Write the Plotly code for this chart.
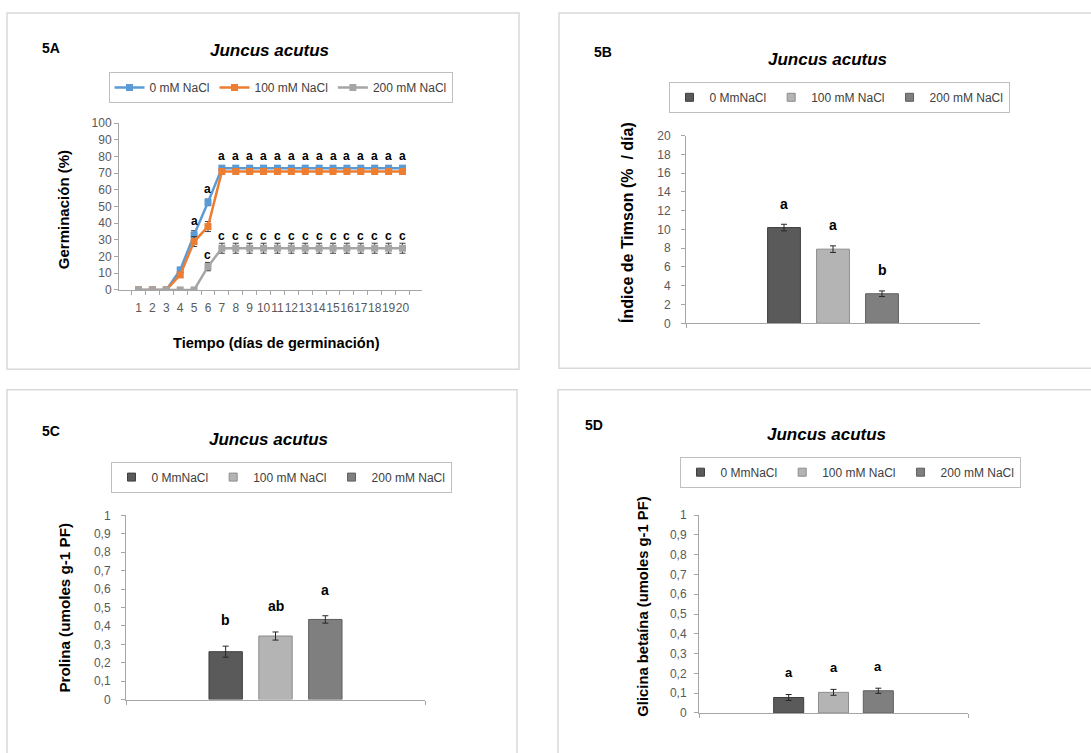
import plotly.graph_objects as go

W, H = 1091, 753


def px(x):
    return x / W


def py(y):
    return 1 - y / H


FONT = "Liberation Sans, Arial, sans-serif"

# ---------------- Data ----------------
days = ["1", "2", "3", "4", "5", "6", "7", "8", "9", "10",
        "11", "12", "13", "14", "15", "16", "17", "18", "19", "20"]
line_names = ["0 mM NaCl", "100 mM NaCl", "200 mM NaCl"]
germ_0mM = [0, 0, 0, 12, 33, 52.5, 73, 73, 73, 73, 73, 73, 73, 73, 73, 73, 73, 73, 73, 73]
germ_100mM = [0, 0, 0, 9, 29, 38, 71, 71, 71, 71, 71, 71, 71, 71, 71, 71, 71, 71, 71, 71]
germ_200mM = [0, 0, 0, 0, 0, 14, 25, 25, 25, 25, 25, 25, 25, 25, 25, 25, 25, 25, 25, 25]
err_0mM = [0, 0, 0, 1.5, 2.5, 2, 1.5, 1.5, 1.5, 1.5, 1.5, 1.5, 1.5, 1.5, 1.5, 1.5, 1.5, 1.5, 1.5, 1.5]
err_100mM = [0, 0, 0, 1.5, 3, 3, 1.5, 1.5, 1.5, 1.5, 1.5, 1.5, 1.5, 1.5, 1.5, 1.5, 1.5, 1.5, 1.5, 1.5]
err_200mM = [0, 0, 0, 0, 0, 2.5, 3, 3, 3, 3, 3, 3, 3, 3, 3, 3, 3, 3, 3, 3]
letters_top = ["", "", "", "", "a", "a", "a", "a", "a", "a", "a", "a", "a", "a", "a", "a", "a", "a", "a", "a"]
letters_low = ["", "", "", "", "", "c", "c", "c", "c", "c", "c", "c", "c", "c", "c", "c", "c", "c", "c", "c"]

treatments = ["0 MmNaCl", "100 mM NaCl", "200 mM NaCl"]
timson = [10.2, 7.9, 3.15]
timson_err = [0.35, 0.35, 0.3]
timson_letters = ["a", "a", "b"]
prolina = [0.26, 0.345, 0.435]
prolina_err = [0.03, 0.022, 0.02]
prolina_letters = ["b", "ab", "a"]
glicina = [0.078, 0.104, 0.112]
glicina_err = [0.015, 0.015, 0.013]
glicina_letters = ["a", "a", "a"]

y_ticks_A = [0, 10, 20, 30, 40, 50, 60, 70, 80, 90, 100]
y_ticks_B = [0, 2, 4, 6, 8, 10, 12, 14, 16, 18, 20]
y_ticks_CD = [0, 0.1, 0.2, 0.3, 0.4, 0.5, 0.6, 0.7, 0.8, 0.9, 1]

# ---------------- Styles ----------------
line_colors = ["#5B9BD5", "#ED7D31", "#A5A5A5"]
bar_colors = ["#5A5A5A", "#B4B4B4", "#7F7F7F"]
bar_edges = ["#3F3F3F", "#8C8C8C", "#5E5E5E"]
AXIS_COL = "#A6A6A6"
TICK_FONT = dict(family=FONT, size=12, color="#595959")
BARGAP = 0.5

fig = go.Figure()

# ---- Panel A: lines ----
for name, vals, errs, col in zip(line_names, [germ_0mM, germ_100mM, germ_200mM],
                                 [err_0mM, err_100mM, err_200mM], line_colors):
    fig.add_trace(go.Scatter(
        x=days, y=vals, name=name, mode="lines+markers",
        line=dict(color=col, width=2.5),
        marker=dict(symbol="square", size=7, color=col),
        error_y=dict(type="data", array=errs, color="#404040", thickness=1, width=3),
        xaxis="x", yaxis="y", legend="legend",
    ))

annotations = []
for i, (v, e, t) in enumerate(zip(germ_0mM, err_0mM, letters_top)):
    if t:
        annotations.append(dict(x=i, y=v + e + 6, xref="x", yref="y", text="<b>%s</b>" % t,
                                showarrow=False, font=dict(family=FONT, size=12, color="#000")))
for i, (v, e, t) in enumerate(zip(germ_200mM, err_200mM, letters_low)):
    if t:
        annotations.append(dict(x=i, y=v + e + 4.5, xref="x", yref="y", text="<b>%s</b>" % t,
                                showarrow=False, font=dict(family=FONT, size=12, color="#000")))

# ---- Bar panels ----
bar_panels = [
    ("x2", "y2", "legend2", timson, timson_err, timson_letters, 2.2, 14),
    ("x3", "y3", "legend3", prolina, prolina_err, prolina_letters, 0.14, 14),
    ("x4", "y4", "legend4", glicina, glicina_err, glicina_letters, 0.11, 13),
]
slot = (1 - BARGAP) / len(treatments)
for xa, ya, lg, vals, errs, lets, off, fs in bar_panels:
    for i, (name, v, e, col, ec) in enumerate(zip(treatments, vals, errs, bar_colors, bar_edges)):
        fig.add_trace(go.Bar(
            x=["Juncus acutus"], y=[v], name=name, showlegend=False,
            marker=dict(color=col, line=dict(color=ec, width=1)),
            error_y=dict(type="data", array=[e], color="#262626", thickness=1, width=3),
            xaxis=xa, yaxis=ya,
        ))
        # legend swatch (small square, like the original)
        fig.add_trace(go.Scatter(
            x=[None], y=[None], name=name, mode="markers",
            marker=dict(symbol="square", size=8, color=col, line=dict(color=ec, width=1)),
            xaxis=xa, yaxis=ya, legend=lg, hoverinfo="skip",
        ))
        xpos = (i - (len(treatments) - 1) / 2) * slot
        annotations.append(dict(x=xpos, y=v + e + off, xref=xa, yref=ya, text="<b>%s</b>" % lets[i],
                                showarrow=False, font=dict(family=FONT, size=fs, color="#000")))


# ---- Text: panel labels, titles, axis titles ----
def add_text(x, y, text, size, angle=0, xanchor="center"):
    annotations.append(dict(x=px(x), y=py(y), xref="paper", yref="paper", text=text,
                            showarrow=False, textangle=angle, xanchor=xanchor, yanchor="middle",
                            font=dict(family=FONT, size=size, color="#000")))


add_text(40, 42, "<b>5A</b>", 14, xanchor="left")
add_text(592, 46, "<b>5B</b>", 14, xanchor="left")
add_text(40, 432, "<b>5C</b>", 14, xanchor="left")
add_text(583, 426, "<b>5D</b>", 14, xanchor="left")

add_text(269, 44, "<b><i>Juncus acutus</i></b>", 17)
add_text(827, 53, "<b><i>Juncus acutus</i></b>", 17)
add_text(268, 441, "<b><i>Juncus acutus</i></b>", 17)
add_text(826, 436, "<b><i>Juncus acutus</i></b>", 17)

add_text(276, 342, "<b>Tiempo (días de germinación)</b>", 14.6)
add_text(63, 207, "<b>Germinación (%)</b>", 15, angle=-90)
add_text(627, 220, "<b>Índice de Timson (%  / día)</b>", 16, angle=-90)
add_text(65, 612, "<b>Prolina (umoles g-1 PF)</b>", 15.2, angle=-90)
add_text(643, 611, "<b>Glicina betaína (umoles g-1 PF)</b>", 14.8, angle=-90)

# ---- Panel borders ----
shapes = []
for x0, y0, x1, y1 in [(7, 6, 519, 369), (559, 6, 1100, 368), (7, 390, 517, 770), (558, 390, 1100, 770)]:
    shapes.append(dict(type="rect", xref="paper", yref="paper", x0=px(x0), x1=px(x1),
                       y0=py(y1), y1=py(y0), line=dict(color="#D9D9D9", width=1.5),
                       fillcolor="rgba(0,0,0,0)", layer="below"))


def yaxis(domain, rng, ticks, anchor, standoff=0):
    return dict(domain=domain, range=rng, tickvals=ticks, showgrid=False, zeroline=False,
                showline=True, linecolor=AXIS_COL, linewidth=1, ticks="outside", ticklen=4,
                tickcolor=AXIS_COL, tickfont=TICK_FONT, anchor=anchor, fixedrange=True,
                ticklabelstandoff=standoff)


def xaxis(domain, anchor, labels=True, standoff=0):
    return dict(domain=domain, showgrid=False, zeroline=False, showline=True, linecolor=AXIS_COL,
                linewidth=1, ticks="outside", ticklen=4, tickcolor=AXIS_COL, tickson="boundaries",
                showticklabels=labels, tickfont=TICK_FONT, anchor=anchor, type="category",
                dtick=1, tickangle=0, fixedrange=True, ticklabelstandoff=standoff)


def legend(x, y):
    return dict(x=px(x), y=py(y), xanchor="center", yanchor="middle", orientation="h",
                bordercolor="#BFBFBF", borderwidth=1, bgcolor="white",
                font=dict(family=FONT, size=12, color="#404040"), itemwidth=30,
                tracegroupgap=0)


fig.update_layout(
    width=W, height=H, autosize=False,
    margin=dict(l=0, r=0, t=0, b=0),
    paper_bgcolor="white", plot_bgcolor="white",
    separators=",.",
    barmode="group", bargap=BARGAP, bargroupgap=0.33,
    font=dict(family=FONT),
    xaxis=xaxis([px(119), px(422)], "y", standoff=7),
    yaxis=yaxis([py(288.3), py(118.3)], [0, 100], y_ticks_A, "x"),
    xaxis2=xaxis([px(686), px(980)], "y2", labels=False),
    yaxis2=yaxis([py(322.3), py(131)], [0, 20], y_ticks_B, "x2", standoff=8),
    xaxis3=xaxis([px(126), px(425)], "y3", labels=False),
    yaxis3=yaxis([py(705.7), py(518)], [0, 1], y_ticks_CD, "x3", standoff=8),
    xaxis4=xaxis([px(699), px(968)], "y4", labels=False),
    yaxis4=yaxis([py(719.3), py(517.7)], [0, 1], y_ticks_CD, "x4", standoff=5),
    legend=legend(280.5, 82),
    legend2=legend(839, 92),
    legend3=legend(281, 479),
    legend4=legend(850, 474),
    annotations=annotations,
    shapes=shapes,
)

fig.write_html("out.html", post_script="document.body.style.margin='0';",
               config={"displayModeBar": False})
